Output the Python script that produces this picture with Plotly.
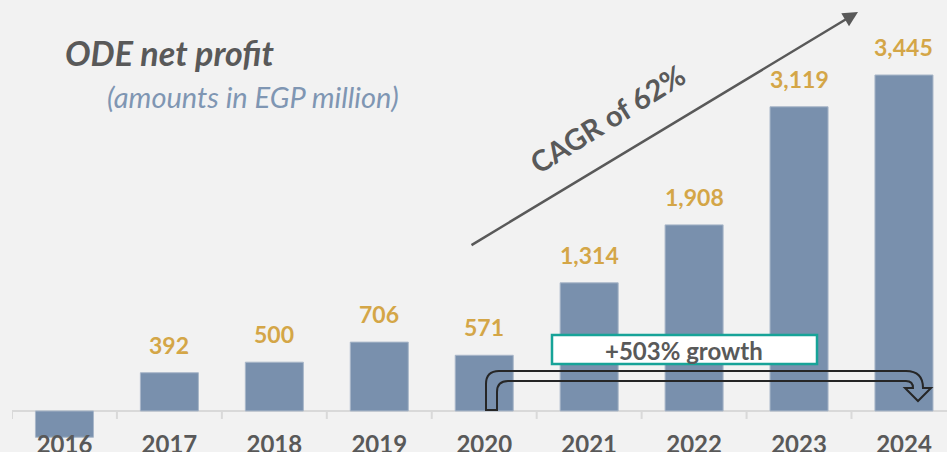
import plotly.graph_objects as go

years = ["2016", "2017", "2018", "2019", "2020", "2021", "2022", "2023", "2024"]
net_profit = [-270, 392, 500, 706, 571, 1314, 1908, 3119, 3445]
value_labels = ["", "392", "500", "706", "571", "1,314", "1,908", "3,119", "3,445"]

BAR = "#7990ad"
GOLD = "#d4a647"
GREY = "#595959"
BG = "#f2f2f2"
FONT = "Lato, 'Open Sans', sans-serif"

W, H = 947, 452
PLOT_L, PLOT_T, PLOT_W, PLOT_H = 12, 0, 935, 441
X_RANGE = [-0.5, 8.41]
Y_RANGE = [-308, 4214]


def to_data(px, py):
    """pixel position in the 947x452 canvas -> data coords (for decorations)"""
    x = X_RANGE[0] + (px - PLOT_L) / PLOT_W * (X_RANGE[1] - X_RANGE[0])
    y = Y_RANGE[1] - (py - PLOT_T) / PLOT_H * (Y_RANGE[1] - Y_RANGE[0])
    return x, y


def to_paper(px, py):
    return (px - PLOT_L) / PLOT_W, 1 - (py - PLOT_T) / PLOT_H


fig = go.Figure()
fig.add_trace(go.Bar(
    x=list(range(len(years))),
    y=net_profit,
    marker=dict(color=BAR, line=dict(color="#a9b7c9", width=1)),
    width=0.553,
    hoverinfo="skip",
))

# value labels above bars
for i, (v, lab) in enumerate(zip(net_profit, value_labels)):
    if not lab:
        continue
    fig.add_annotation(
        x=i, y=v, text=f"<b>{lab}</b>", showarrow=False,
        yanchor="bottom", yshift=12,
        font=dict(family=FONT, size=23, color=GOLD),
    )

# axis ticks at category boundaries
for i in range(len(years)):
    fig.add_shape(
        type="line", xref="x", yref="y", ysizemode="pixel", yanchor=0,
        x0=i - 0.5, x1=i - 0.5, y0=0, y1=-8,
        line=dict(color="#d9d9d9", width=2),
    )

# title
tx, ty = to_paper(63, 52)
fig.add_annotation(
    x=tx, y=ty, xref="paper", yref="paper", xanchor="left", yanchor="middle",
    text="<b><i>ODE net profit</i></b>", showarrow=False,
    font=dict(family=FONT, size=34, color=GREY),
)
sx, sy = to_paper(105, 96)
fig.add_annotation(
    x=sx, y=sy, xref="paper", yref="paper", xanchor="left", yanchor="middle",
    text="<i>(amounts in EGP million)</i>", showarrow=False,
    font=dict(family=FONT, size=29, color="#7f96b3"),
)

# CAGR arrow
hx, hy = to_data(858, 12)
ax_, ay_ = to_data(470, 246)
fig.add_annotation(
    x=hx, y=hy, ax=ax_, ay=ay_, xref="x", yref="y", axref="x", ayref="y",
    showarrow=True, arrowhead=2, arrowsize=1.2, arrowwidth=2.5, arrowcolor=GREY,
    text="",
)
cx, cy = to_data(607, 118)
fig.add_annotation(
    x=cx, y=cy, text="<b>CAGR of 62%</b>", showarrow=False, textangle=-32,
    font=dict(family=FONT, size=29, color=GREY),
)

# +503% growth box
bx0, by0 = to_data(552, 335)
bx1, by1 = to_data(817, 364)
fig.add_shape(
    type="rect", x0=bx0, x1=bx1, y0=by0, y1=by1,
    fillcolor="white", line=dict(color="#17a398", width=2.5),
)
gx, gy = to_data(684, 350)
fig.add_annotation(
    x=gx, y=gy, text="<b>+503% growth</b>", showarrow=False,
    font=dict(family=FONT, size=24, color=GREY),
)

# hollow bent arrow 2020 -> 2024
pts = [
    ("M", [(486, 410)]), ("L", [(486, 384)]), ("Q", [(486, 371), (499, 371)]),
    ("L", [(906, 371)]), ("Q", [(923, 371), (923, 388)]), ("L", [(931, 388)]),
    ("L", [(918, 401)]), ("L", [(905, 388)]), ("L", [(913, 388)]),
    ("Q", [(913, 381), (906, 381)]), ("L", [(508, 381)]),
    ("Q", [(497, 381), (497, 392)]), ("L", [(497, 410)]),
]
path = ""
for cmd, coords in pts:
    path += cmd + " " + " ".join("{:.4f},{:.3f}".format(*to_data(px, py)) for px, py in coords) + " "
path += "Z"
fig.add_shape(type="path", path=path, xref="x", yref="y",
              line=dict(color="#262626", width=2), fillcolor="rgba(0,0,0,0)")

fig.update_xaxes(
    range=X_RANGE, tickmode="array", tickvals=list(range(len(years))), ticktext=years,
    showgrid=False, showline=False, zeroline=False, ticks="",
    tickfont=dict(family=FONT, size=24, color=GREY, weight="bold"),
    ticklabelstandoff=-13, automargin=False,
)
fig.update_yaxes(
    range=Y_RANGE, showgrid=False, showticklabels=False, ticks="",
    zeroline=True, zerolinecolor="#d9d9d9", zerolinewidth=2, automargin=False,
)
fig.update_layout(
    width=W, height=H,
    margin=dict(l=PLOT_L, r=W - PLOT_L - PLOT_W, t=PLOT_T, b=H - PLOT_T - PLOT_H),
    paper_bgcolor=BG, plot_bgcolor=BG,
    showlegend=False,
    font=dict(family=FONT),
)

# drop the default page margin so the figure fills the window
fig.write_html("out.html", config={"displayModeBar": False},
               post_script="document.body.style.margin='0';")
